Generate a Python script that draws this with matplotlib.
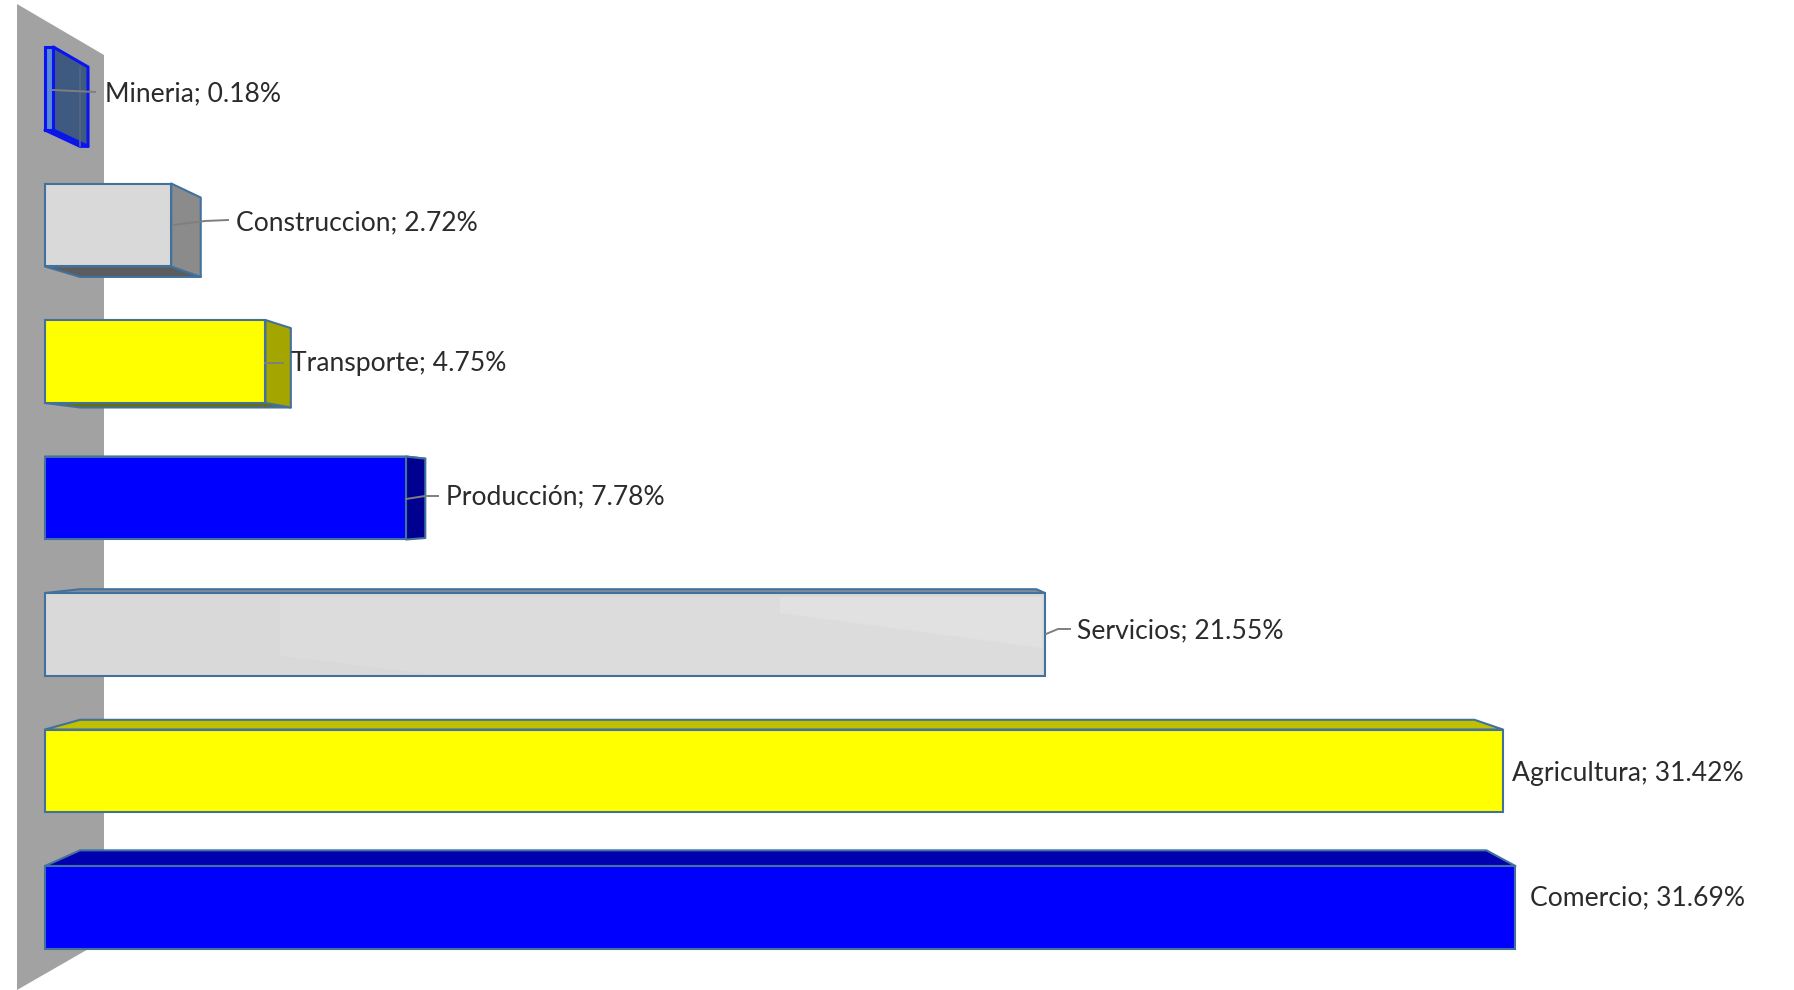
import matplotlib
matplotlib.use("Agg")
import matplotlib.pyplot as plt
from matplotlib.patches import Polygon
from matplotlib.transforms import Affine2D

#
#   Data
#

sectors = ["Mineria", "Construccion", "Transporte", "Producción", "Servicios", "Agricultura", "Comercio"]
shares = [0.18, 2.72, 4.75, 7.78, 21.55, 31.42, 31.69]

#
#   Styles
#

W, H = 1794, 990
PX_PER_PCT = 46.4
X0_PX = 45
ROW_PX = 136.5
Y0_PX = 88.5
BAR_H = 0.608

# perspective of the bars: vanishing point in data coords and depth factor
VX, VY = 17.35, 3.06
K = 0.9565

EDGE = "#41719c"
front_cols = ["#5b8ad6", "#d9d9d9", "#ffff00", "#0000ff", "#d9d9d9", "#ffff00", "#0000ff"]
side_cols = ["#3f5a80", "#8b8b8b", "#a5a500", "#000090", "#8b8b8b", "#a5a500", "#000090"]
top_cols = ["#3f5a80", "#a8a8a8", "#c0c000", "#0000b0", "#8a8f98", "#c0c000", "#0000b0"]
bottom_cols = ["#14306e", "#5c5c5c", "#6e6e00", "#000060", "#5c5c5c", "#6e6e00", "#000060"]
edge_cols = ["#0a14f0", EDGE, EDGE, EDGE, EDGE, EDGE, EDGE]
edge_lw = [2.2, 1.5, 1.5, 1.5, 1.5, 1.5, 1.5]

label_x = [105, 236, 291, 446, 1077, 1512, 1530]
label_y = [94, 223, 364, 497, 631, 773, 898]
leaders = [
    [(53, 90), (95, 92)],
    [(173, 225), (205, 221), (228, 220)],
    [(265, 363), (283, 363)],
    [(406, 499), (425, 496), (438, 496)],
    [(1046, 634), (1058, 629), (1070, 629)],
    None,
    None,
]


def back(x, y):
    return VX + K * (x - VX), VY + K * (y - VY)


#
#   Main
#

plt.rcParams["font.family"] = ["Lato", "DejaVu Sans"]

fig = plt.figure(figsize=(W / 100, H / 100), dpi=100, facecolor="white")
ax = fig.add_axes([0, 0, 1, 1])
ax.set_xlim(-X0_PX / PX_PER_PCT, (W - X0_PX) / PX_PER_PCT)
ax.set_ylim((H - Y0_PX) / ROW_PX, -Y0_PX / ROW_PX)
ax.axis("off")

# pixel space from the top left corner, for wall and label placing
px = Affine2D().scale(1 / W, -1 / H).translate(0, 1) + ax.transAxes

# side wall the bars stand on
ax.add_patch(Polygon([(17, 4), (104, 55), (104, 940), (17, 990)], closed=True,
                     facecolor="#a2a2a2", edgecolor="none", transform=px, zorder=1))

rows = range(len(sectors))
for i in rows:
    w = shares[i]
    y_top, y_bot = i - BAR_H / 2, i + BAR_H / 2
    fl = (0, y_top), (w, y_top), (w, y_bot), (0, y_bot)
    (tl, tr, br, bl) = [back(*p) for p in fl]
    style = dict(closed=True, edgecolor=edge_cols[i], linewidth=edge_lw[i], joinstyle="round", zorder=2)

    # only the faces turned towards the vanishing point show
    if y_bot < VY:
        ax.add_patch(Polygon([fl[3], fl[2], br, bl], facecolor=bottom_cols[i], **style))
    else:
        ax.add_patch(Polygon([fl[0], fl[1], tr, tl], facecolor=top_cols[i], **style))
    if w < VX:
        ax.add_patch(Polygon([fl[1], tr, br, fl[2]], facecolor=side_cols[i], **style))

ax.barh(list(rows), shares, height=BAR_H, color=front_cols, edgecolor=edge_cols,
        linewidth=edge_lw, zorder=3)

# far edge of the very thin bar shows through
tl = back(0, 0 - BAR_H / 2)
bl = back(0, 0 + BAR_H / 2)
ax.plot([tl[0], bl[0]], [tl[1], bl[1]], color="#55677f", lw=1.2, zorder=2.5)

# sheen on the grey bar
ax.add_patch(Polygon([(280, 597), (1042, 597), (1042, 674), (430, 674), (280, 656)],
                     closed=True, facecolor="#dcdcdc", edgecolor="none", transform=px, zorder=4))
ax.add_patch(Polygon([(780, 597), (1042, 597), (1042, 648), (780, 613)],
                     closed=True, facecolor="#e1e1e1", edgecolor="none", transform=px, zorder=4))

for i in rows:
    if leaders[i]:
        xs, ys = zip(*leaders[i])
        ax.plot(xs, ys, color="#7f7f7f", lw=1.4, transform=px, zorder=5)
    ax.text(label_x[i], label_y[i], f"{sectors[i]}; {shares[i]:.2f}%", transform=px,
            fontsize=19.1, color="#2b2b2b", ha="left", va="center", zorder=6)

fig.savefig("out.png", dpi=100)
